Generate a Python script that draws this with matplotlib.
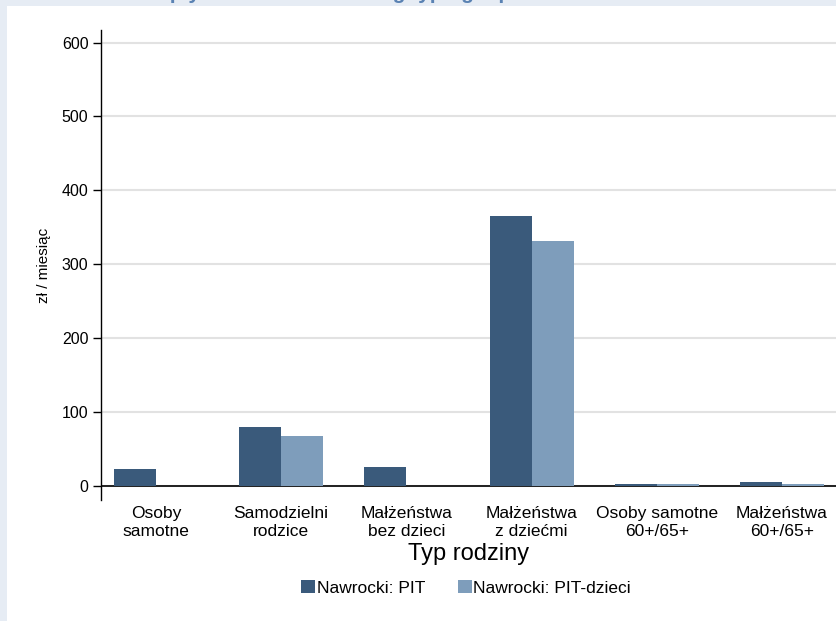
import numpy as np
import matplotlib.pyplot as plt
from matplotlib.patches import Rectangle

plt.rcParams['font.family'] = ['Liberation Sans', 'DejaVu Sans']

categories = ["Osoby\nsamotne", "Samodzielni\nrodzice", "Małżeństwa\nbez dzieci",
              "Małżeństwa\nz dziećmi", "Osoby samotne\n60+/65+", "Małżeństwa\n60+/65+"]
pit = [23, 80, 25, 365, 3, 6]
pit_dzieci = [0, 68, 0, 332, 2, 2]
series_names = ["Nawrocki: PIT", "Nawrocki: PIT-dzieci"]

dark = "#3a5a7b"
light = "#7e9dbb"

W, H = 836, 621
fig = plt.figure(figsize=(W / 100, H / 100), dpi=100)
fig.patch.set_facecolor("#e6ecf4")
# white page area (slide background shows on top and left)
fig.patches.append(Rectangle((7 / W, 0), 1, (H - 6) / H, transform=fig.transFigure,
                             facecolor="white", edgecolor="none", zorder=-5))
# cut-off title at the very top
fig.text(0.45, 1 + 1 / H, "Wpływ na dochód według typu gospodarstwa", color="#5a82b3",
         fontsize=15, fontweight="bold", ha="center", va="baseline", zorder=-4)

ax = fig.add_axes([101 / W, (H - 500) / H, 736 / W, 470 / H])
ax.set_facecolor("none")
ax.set_zorder(2)

x = np.arange(len(categories))
w = 0.335
ax.bar(x - w / 2, pit, w, color=dark, linewidth=0, zorder=3, label=series_names[0])
ax.bar(x + w / 2, pit_dzieci, w, color=light, linewidth=0, zorder=3, label=series_names[1])
ax.axhline(0, color="black", linewidth=1.2, zorder=2)

ax.set_xlim(-0.439, 5.439)
ax.set_ylim(-19, 617)
ax.set_yticks(range(0, 601, 100))
ax.yaxis.grid(True, color="#e2e2e2", linewidth=1.5, zorder=0)
ax.set_axisbelow(True)
for s in ["top", "right", "bottom"]:
    ax.spines[s].set_visible(False)
ax.spines["left"].set_linewidth(1)
ax.tick_params(axis="y", length=6, width=1, labelsize=11.5, pad=3)
ax.set_xticks(x)
ax.set_xticklabels(categories, fontsize=12.5, linespacing=1.3)
ax.tick_params(axis="x", length=0, pad=4)

ax.set_ylabel("zł / miesiąc", fontsize=11, labelpad=8)
ax.set_xlabel("Typ rodziny", fontsize=17, labelpad=3)

leg = fig.legend(loc="center", bbox_to_anchor=(466 / W, (H - 588) / H), ncol=2, frameon=False,
                 fontsize=12.5, handlelength=0.8, handleheight=0.8, handletextpad=0.1,
                 columnspacing=1.9)

plt.savefig("out.png", dpi=100)
